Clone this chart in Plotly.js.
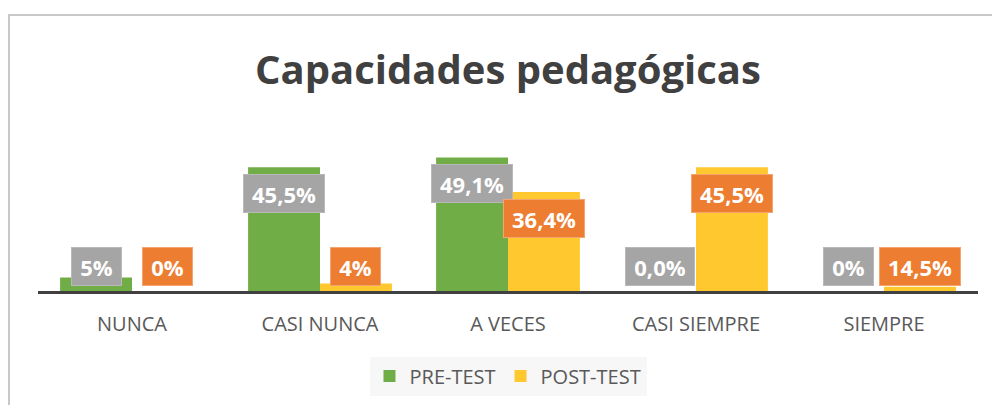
<!DOCTYPE html>
<html>
<head>
<meta charset="utf-8">
<script src="https://cdn.plot.ly/plotly-3.0.1.min.js"></script>
<style>
  html, body { margin: 0; padding: 0; background: #ffffff; }
  #wrap { position: relative; width: 992px; height: 405px; overflow: hidden; }
  #chart { width: 992px; height: 405px; }
  #frame { position: absolute; left: 8px; top: 14px; width: 1200px; height: 600px;
           border-top: 2px solid #C9C9C9; border-left: 2px solid #C9C9C9; pointer-events: none; }
</style>
</head>
<body>
<div id="wrap">
  <div id="chart"></div>
  <div id="frame"></div>
</div>
<script>
// ---- data ----
const categories = ["NUNCA", "CASI NUNCA", "A VECES", "CASI SIEMPRE", "SIEMPRE"];
const preTest  = [5, 45.5, 49.1, 0, 0];          // bar heights (%)
const postTest = [0, 2.8, 36.4, 45.5, 1.6];      // bar heights (%)
const preLabels  = ["5%", "45,5%", "49,1%", "0,0%", "0%"];
const postLabels = ["0%", "4%", "36,4%", "45,5%", "14,5%"];
const seriesNames = ["PRE-TEST", "POST-TEST"];

// ---- style ----
const GREEN = "#70AD47", YELLOW = "#FFC82E";
const GRAY_BOX = "#A5A5A5", ORANGE_BOX = "#ED7D31";
const BARGAP = 0.235;
const YMAX = 55.5;
const PLOT_H = 405 - 140 - 114;
const PX_PER_UNIT = PLOT_H / YMAX;
const LABEL_SHIFT = -7;           // px below bar top
const MIN_LABEL_PX = 44;          // label box top never lower than this many px above baseline
const LABEL_FONT_SIZE = 22;
const LABEL_FONT = "Open Sans, sans-serif";

const ctx = document.createElement("canvas").getContext("2d");
ctx.font = "bold " + LABEL_FONT_SIZE + "px 'Open Sans'";
function textW(s) { return Math.ceil(ctx.measureText(s).width); }

const traces = [
  { type: "bar", name: seriesNames[0], x: categories, y: preTest,
    marker: { color: GREEN, line: { width: 0 } }, hoverinfo: "skip" },
  { type: "bar", name: seriesNames[1], x: categories, y: postTest,
    marker: { color: YELLOW, line: { width: 0 } }, hoverinfo: "skip" }
];

const halfW = (1 - BARGAP) / 4;
const annotations = [];
function addLabels(vals, labels, offset, bg, border) {
  vals.forEach((v, i) => {
    annotations.push({
      x: i + offset, y: Math.max(v, (MIN_LABEL_PX - LABEL_SHIFT) / PX_PER_UNIT),
      xref: "x", yref: "y", text: labels[i], showarrow: false,
      xanchor: "center", yanchor: "top", yshift: LABEL_SHIFT,
      width: textW(labels[i]) + 6, height: 27,
      bgcolor: bg, bordercolor: border, borderwidth: 1, borderpad: 5,
      font: { family: LABEL_FONT, size: LABEL_FONT_SIZE, color: "#FFFFFF", weight: "bold" }
    });
  });
}
addLabels(preTest, preLabels, -halfW, GRAY_BOX, "#B8B8B8");
addLabels(postTest, postLabels, halfW, ORANGE_BOX, "#F3A470");

const layout = {
  width: 992, height: 405,
  margin: { l: 38, r: 14, t: 140, b: 114, pad: 0 },
  paper_bgcolor: "#FFFFFF", plot_bgcolor: "#FFFFFF",
  barmode: "group", bargap: BARGAP, bargroupgap: 0,
  title: {
    text: "<b>Capacidades pedagógicas</b>",
    font: { family: "Open Sans, sans-serif", size: 40, color: "#404040" },
    xref: "container", x: 508 / 992, xanchor: "center",
    yref: "container", y: 1 - 70 / 405, yanchor: "middle"
  },
  xaxis: {
    type: "category", showline: true, linecolor: "#404040", linewidth: 3,
    ticks: "", showgrid: false, zeroline: false, ticklabelstandoff: 13,
    tickfont: { family: "Open Sans, sans-serif", size: 20, color: "#595959" },
    fixedrange: true
  },
  yaxis: { range: [0, YMAX], visible: false, fixedrange: true },
  showlegend: true,
  legend: {
    orientation: "h", xref: "paper", x: 0.5, xanchor: "center",
    yref: "container", y: 1 - 376 / 405, yanchor: "middle",
    bgcolor: "#F7F7F7",
    font: { family: "Open Sans, sans-serif", size: 20, color: "#595959" },
    traceorder: "normal"
  },
  annotations: annotations
};

Plotly.newPlot("chart", traces, layout, { staticPlot: true, displayModeBar: false });
</script>
</body>
</html>
